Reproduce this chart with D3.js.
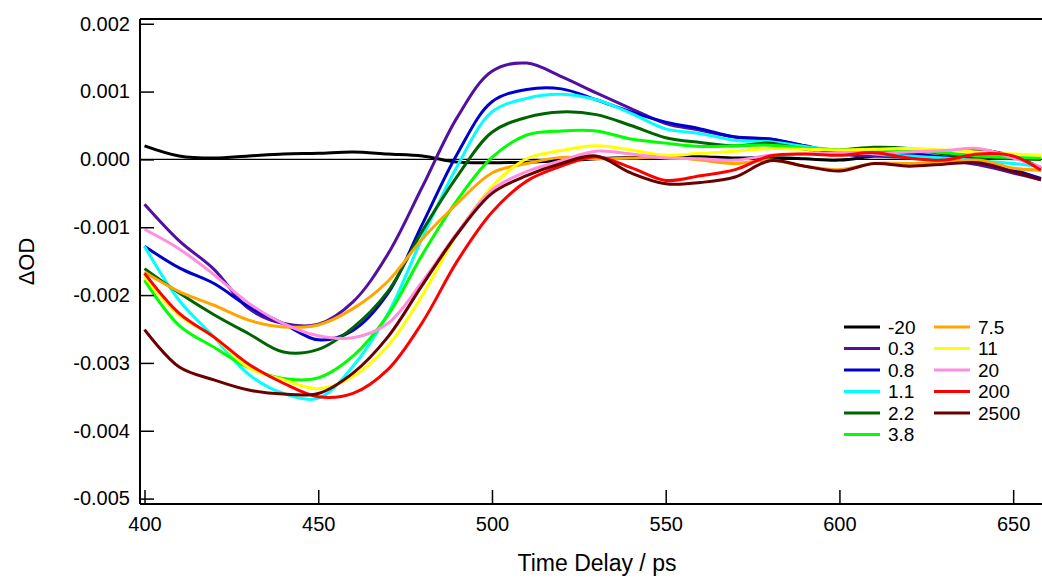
<!DOCTYPE html>
<html>
<head>
<meta charset="utf-8">
<script src="https://cdn.jsdelivr.net/npm/d3@7"></script>
<style>
  body { margin: 0; background: #fff; }
  svg { display: block; font-family: "Liberation Sans", Arial, sans-serif; }
</style>
</head>
<body>
<div id="chart"></div>
<script>
// time axis (ps) shared by all traces
const times = [400, 410, 420, 430, 440, 450, 460, 470, 480, 490, 500, 510, 520, 530, 540,
               550, 560, 570, 580, 590, 600, 610, 620, 630, 640, 650, 658]

// traces in mOD
const od_m20 = [0.2, 0.05, 0.02, 0.05, 0.08, 0.09, 0.11, 0.08, 0.05, -0.04, -0.05, -0.04, -0.02, 0.01, 0.03,
                0.04, 0.04, 0.02, 0.03, 0.01, -0.01, 0.05, 0.1, 0.12, 0.14, 0.05, -0.13]
const od_0_3 = [-0.66, -1.2, -1.62, -2.2, -2.42, -2.43, -2.1, -1.4, -0.4, 0.62, 1.3, 1.42, 1.22, 0.98, 0.75,
                0.53, 0.43, 0.33, 0.3, 0.2, 0.08, 0.05, 0.03, 0.0, -0.08, -0.2, -0.3]
const od_0_8 = [-1.28, -1.6, -1.83, -2.17, -2.42, -2.66, -2.52, -1.98, -0.95, 0.08, 0.85, 1.03, 1.04, 0.88, 0.7,
                0.55, 0.45, 0.33, 0.3, 0.2, 0.11, 0.13, 0.08, 0.04, 0.0, -0.15, -0.28]
const od_1_1 = [-1.28, -2.08, -2.62, -3.17, -3.45, -3.52, -3.05, -2.28, -1.15, -0.1, 0.7, 0.9, 0.96, 0.88, 0.68,
                0.45, 0.38, 0.28, 0.26, 0.19, 0.13, 0.08, 0.05, 0.02, -0.02, -0.06, -0.11]
const od_2_2 = [-1.61, -1.97, -2.29, -2.57, -2.84, -2.8, -2.48, -1.95, -1.05, -0.25, 0.4, 0.62, 0.7, 0.66, 0.5,
                0.32, 0.25, 0.2, 0.24, 0.15, 0.14, 0.18, 0.16, 0.08, 0.03, 0.01, 0.0]
const od_3_8 = [-1.78, -2.45, -2.77, -3.07, -3.23, -3.22, -2.9, -2.3, -1.4, -0.6, 0.03, 0.36, 0.42, 0.42, 0.3,
                0.24, 0.19, 0.2, 0.21, 0.17, 0.14, 0.14, 0.14, 0.1, 0.05, 0.03, 0.02]
const od_7_5 = [-1.66, -1.95, -2.15, -2.37, -2.47, -2.44, -2.2, -1.8, -1.17, -0.65, -0.2, -0.06, 0.03, 0.01, 0.02,
                0.04, -0.01, -0.06, -0.01, -0.1, -0.15, -0.06, -0.06, -0.04, -0.01, -0.13, -0.16]
const od_11 = [-1.73, -2.3, -2.62, -3.07, -3.25, -3.38, -3.2, -2.75, -2.0, -1.1, -0.4, 0.01, 0.13, 0.2, 0.14,
               0.06, 0.09, 0.12, 0.16, 0.15, 0.14, 0.15, 0.16, 0.14, 0.11, 0.08, 0.06]
const od_20 = [-1.03, -1.32, -1.7, -2.12, -2.42, -2.6, -2.63, -2.42, -1.8, -1.08, -0.45, -0.18, -0.02, 0.12, 0.08,
               0.02, 0.01, -0.01, 0.06, 0.08, 0.09, 0.09, 0.11, 0.13, 0.16, 0.02, -0.11]
const od_200 = [-1.68, -2.27, -2.62, -3.02, -3.3, -3.5, -3.45, -3.1, -2.4, -1.5, -0.78, -0.32, -0.1, 0.04, -0.12,
                -0.31, -0.24, -0.15, 0.05, 0.08, 0.06, 0.1, 0.02, -0.01, 0.08, 0.05, -0.16]
const od_2500 = [-2.51, -3.06, -3.25, -3.4, -3.46, -3.45, -3.15, -2.62, -1.85, -1.1, -0.5, -0.24, -0.06, 0.05, -0.2,
                 -0.36, -0.34, -0.26, -0.02, -0.1, -0.17, -0.06, -0.1, -0.07, -0.05, -0.18, -0.3]

const labels = ['-20', '0.3', '0.8', '1.1', '2.2', '3.8', '7.5', '11', '20', '200', '2500']
const colors = ['#000000', '#5210a0', '#0000cc', '#00ffff', '#006400', '#00ff00',
                '#ffa500', '#ffff00', '#ff8ee0', '#ff0000', '#6b0000']
const traces = [od_m20, od_0_3, od_0_8, od_1_1, od_2_2, od_3_8, od_7_5, od_11, od_20, od_200, od_2500]

const yTicks = [-0.005, -0.004, -0.003, -0.002, -0.001, 0, 0.001, 0.002]
const xTicks = [400, 450, 500, 550, 600, 650]

const width = 1042, height = 580
const margin = { top: 19, right: 0, bottom: 76, left: 140 }

const svg = d3.select('#chart')
    .append('svg')
    .attr('width', width)
    .attr('height', height)

const x = d3.scaleLinear()
    .domain([398.7, 658.3])
    .range([margin.left, width - margin.right])

const y = d3.scaleLinear()
    .domain([-0.00508, 0.00207])
    .range([height - margin.bottom, margin.top])

svg.append('clipPath')
    .attr('id', 'plot')
    .append('rect')
    .attr('x', margin.left)
    .attr('y', margin.top)
    .attr('width', width - margin.left - margin.right)
    .attr('height', height - margin.top - margin.bottom)

// zero line
svg.append('line')
    .attr('x1', x.range()[0])
    .attr('x2', x.range()[1])
    .attr('y1', y(0))
    .attr('y2', y(0))
    .attr('stroke', 'black')
    .attr('stroke-width', 1.2)

const line = d3.line()
    .x((d, i) => x(times[i]))
    .y(d => y(d / 1000))
    .curve(d3.curveCatmullRom.alpha(0.5))

svg.append('g')
    .attr('clip-path', 'url(#plot)')
    .selectAll('path')
    .data(traces)
    .join('path')
    .attr('d', line)
    .attr('fill', 'none')
    .attr('stroke', (d, i) => colors[i])
    .attr('stroke-width', 3)
    .attr('stroke-linejoin', 'round')

// axes
const yAxis = svg.append('g')
    .attr('transform', `translate(${margin.left},0)`)
    .call(d3.axisLeft(y)
        .tickValues(yTicks)
        .tickFormat(d => d.toFixed(3))
        .tickSizeInner(-14)
        .tickSizeOuter(0)
        .tickPadding(10))

const xAxis = svg.append('g')
    .attr('transform', `translate(0,${height - margin.bottom})`)
    .call(d3.axisBottom(x)
        .tickValues(xTicks)
        .tickSizeInner(-14)
        .tickSizeOuter(0)
        .tickPadding(13))

for (const g of [yAxis, xAxis]) {
    g.select('.domain').remove()
    g.selectAll('line').attr('stroke', 'black').attr('stroke-width', 1.5)
    g.selectAll('text').attr('font-size', 20).attr('fill', 'black')
        .attr('font-family', '"Liberation Sans", Arial, sans-serif')
}

// frame: left, bottom, top
const frame = svg.append('g').attr('stroke', 'black').attr('stroke-width', 2)
frame.append('line')
    .attr('x1', x.range()[0]).attr('x2', x.range()[0])
    .attr('y1', y.range()[1]).attr('y2', y.range()[0])
frame.append('line')
    .attr('x1', x.range()[0]).attr('x2', x.range()[1])
    .attr('y1', y.range()[0]).attr('y2', y.range()[0])
frame.append('line')
    .attr('x1', x.range()[0]).attr('x2', x.range()[1])
    .attr('y1', y.range()[1]).attr('y2', y.range()[1])

svg.append('text')
    .attr('x', 597)
    .attr('y', 571)
    .attr('text-anchor', 'middle')
    .attr('font-size', 23)
    .text('Time Delay / ps')

svg.append('text')
    .attr('transform', `translate(34,${(y.range()[0] + y.range()[1]) / 2}) rotate(-90)`)
    .attr('text-anchor', 'middle')
    .attr('font-size', 22)
    .text('ΔOD')

// legend, two columns
const legend = svg.append('g')
    .selectAll('g')
    .data(labels)
    .join('g')
    .attr('transform', (d, i) => {
        const col = i < 6 ? 0 : 1
        const row = i < 6 ? i : i - 6
        return `translate(${844 + col * 90},${327 + row * 21.5})`
    })

legend.append('line')
    .attr('x1', 0)
    .attr('x2', 36)
    .attr('stroke', (d, i) => colors[i])
    .attr('stroke-width', 3)

legend.append('text')
    .attr('x', 44)
    .attr('dy', '0.35em')
    .attr('font-size', 19)
    .text(d => d)
</script>
</body>
</html>
